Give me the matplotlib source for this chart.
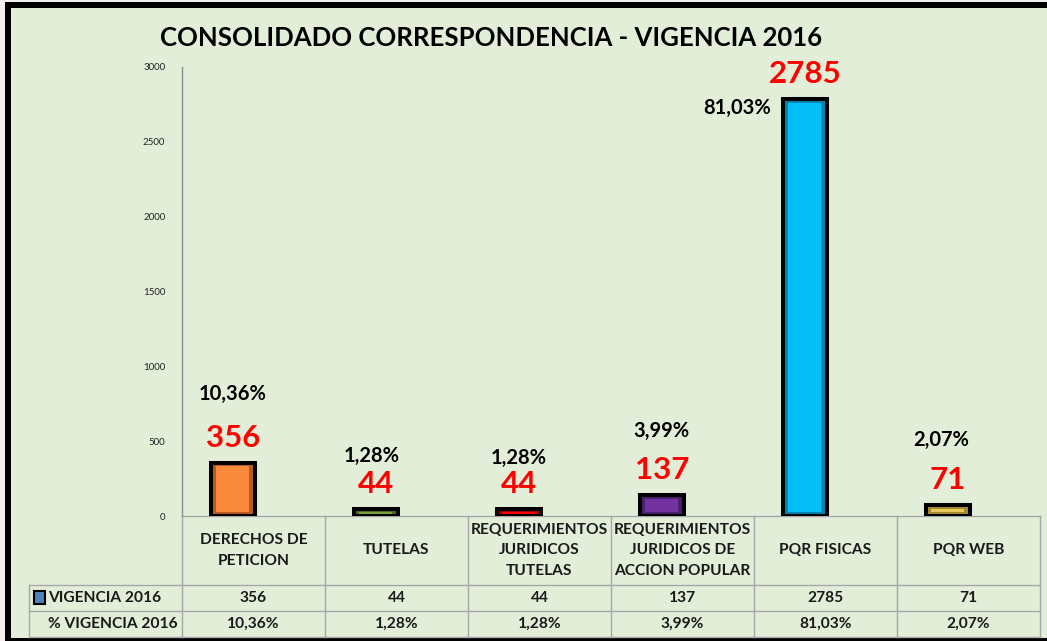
import matplotlib.pyplot as plt
from matplotlib.patches import Rectangle
from matplotlib import transforms

# datos
categorias = ["DERECHOS DE\nPETICION", "TUTELAS", "REQUERIMIENTOS\nJURIDICOS\nTUTELAS",
              "REQUERIMIENTOS\nJURIDICOS DE\nACCION POPULAR", "PQR FISICAS", "PQR WEB"]
valores = [356, 44, 44, 137, 2785, 71]
porcentajes = ["10,36%", "1,28%", "1,28%", "3,99%", "81,03%", "2,07%"]
yticks = [0, 500, 1000, 1500, 2000, 2500, 3000]

colores = ["#F98A3C", "#77A03C", "#FF0000", "#7232A0", "#05BEF8", "#E6C95A"]
oscuros = ["#B85A22", "#4F6B25", "#A00000", "#4A1F6B", "#0485B0", "#A68B2E"]
# desplazamiento (px) de las etiquetas de porcentaje respecto a la barra
pct_dx = [0, -4, 0, 0, -68, -7]
pct_dy = [69, 53, 51, 65, -9, 65]

W, H = 1047, 641
fondo = "#E3EED9"
gris = "#A6A6A6"
fuente = "Lato"

fig = plt.figure(figsize=(W / 100, H / 100), dpi=100)
fig.patch.set_facecolor("#F5EFEF")

def fx(x):
    return x / W

def fy(y):
    return 1 - y / H

# fondo y bordes del grafico
fig.add_artist(Rectangle((fx(5), fy(641)), fx(1042), fy(2) - fy(641),
                         transform=fig.transFigure, facecolor="black", edgecolor="none", zorder=-10))
fig.add_artist(Rectangle((fx(11), fy(638)), fx(1036), fy(8) - fy(638),
                         transform=fig.transFigure, facecolor=fondo, edgecolor="none", zorder=-9))

ax = fig.add_axes([fx(182), fy(516), fx(1040) - fx(182), fy(67) - fy(516)])
ax.set_facecolor("none")

x = list(range(len(valores)))
xb = [i - 0.145 for i in x]
ancho = 0.31
ax.bar(xb, valores, width=ancho, color=oscuros, edgecolor="black", linewidth=2.9, zorder=3)
# efecto bisel: centro mas claro
alto_int = [max(v - 50, v * 0.25) for v in valores]
base_int = [(v - h) / 2 for v, h in zip(valores, alto_int)]
ax.bar(xb, alto_int, bottom=base_int, width=ancho * 0.74, color=colores, edgecolor="none", zorder=4)

for i, v in enumerate(valores):
    ax.annotate(str(v), xy=(xb[i], v), xytext=(0, 25), textcoords="offset pixels",
                ha="center", va="center", fontsize=22.5, fontweight="bold", color="#FF0000",
                family=fuente, zorder=5)
    ax.annotate(porcentajes[i], xy=(xb[i], v), xytext=(pct_dx[i], pct_dy[i]), textcoords="offset pixels",
                ha="center", va="center", fontsize=14.5, fontweight="bold", color="black",
                family=fuente, zorder=5)

ax.set_xlim(-0.5, len(valores) - 0.5)
ax.set_ylim(0, 3000)
ax.set_yticks(yticks)
ax.set_yticklabels([str(t) for t in yticks], fontsize=7, family=fuente, color="#222222")
ax.tick_params(axis="y", length=0, pad=12)
ax.set_xticks([])
for s in ["top", "right", "bottom"]:
    ax.spines[s].set_visible(False)
ax.spines["left"].set_color("#8C8C8C")
ax.spines["left"].set_linewidth(1)

# tabla de datos
tr = transforms.blended_transform_factory(ax.transData, fig.transFigure)
y_top, y_r1, y_r2, y_bot = fy(516), fy(585), fy(611), fy(637)
for xl in [i - 0.5 for i in range(len(valores) + 1)]:
    ax.plot([xl, xl], [y_top, y_bot], transform=tr, color=gris, lw=1, clip_on=False)
ax.plot([-0.5, len(valores) - 0.5], [y_top, y_top], transform=tr, color=gris, lw=1, clip_on=False)
for yy in [y_r1, y_r2, y_bot]:
    fig.add_artist(plt.Line2D([fx(29), fx(1040)], [yy, yy], transform=fig.transFigure, color=gris, lw=1))
fig.add_artist(plt.Line2D([fx(29), fx(29)], [y_r1, y_bot], transform=fig.transFigure, color=gris, lw=1))

tam_tabla = 11.2
for i in x:
    ax.text(i, (y_top + y_r1) / 2, categorias[i], transform=tr, ha="center", va="center",
            fontsize=tam_tabla, fontweight="bold", family=fuente, color="#1A1A1A", linespacing=1.55)
    ax.text(i, (y_r1 + y_r2) / 2, str(valores[i]), transform=tr, ha="center", va="center",
            fontsize=tam_tabla, fontweight="bold", family=fuente, color="#1A1A1A")
    ax.text(i, (y_r2 + y_bot) / 2, porcentajes[i], transform=tr, ha="center", va="center",
            fontsize=tam_tabla, fontweight="bold", family=fuente, color="#1A1A1A")

fig.add_artist(Rectangle((fx(34), fy(604)), fx(11), fy(591) - fy(604), transform=fig.transFigure,
                         facecolor="#4F81BD", edgecolor="black", lw=1.5))
fig.text(fx(48), (y_r1 + y_r2) / 2, "VIGENCIA 2016", ha="left", va="center", fontsize=tam_tabla,
         fontweight="bold", family=fuente, color="#1A1A1A")
fig.text(fx(48), (y_r2 + y_bot) / 2, "% VIGENCIA 2016", ha="left", va="center", fontsize=tam_tabla,
         fontweight="bold", family=fuente, color="#1A1A1A")

fig.text(fx(491), fy(38), "CONSOLIDADO CORRESPONDENCIA - VIGENCIA 2016", ha="center", va="center",
         fontsize=18.5, fontweight="bold", family=fuente, color="black")

fig.savefig("out.png", dpi=100, facecolor=fig.get_facecolor())
